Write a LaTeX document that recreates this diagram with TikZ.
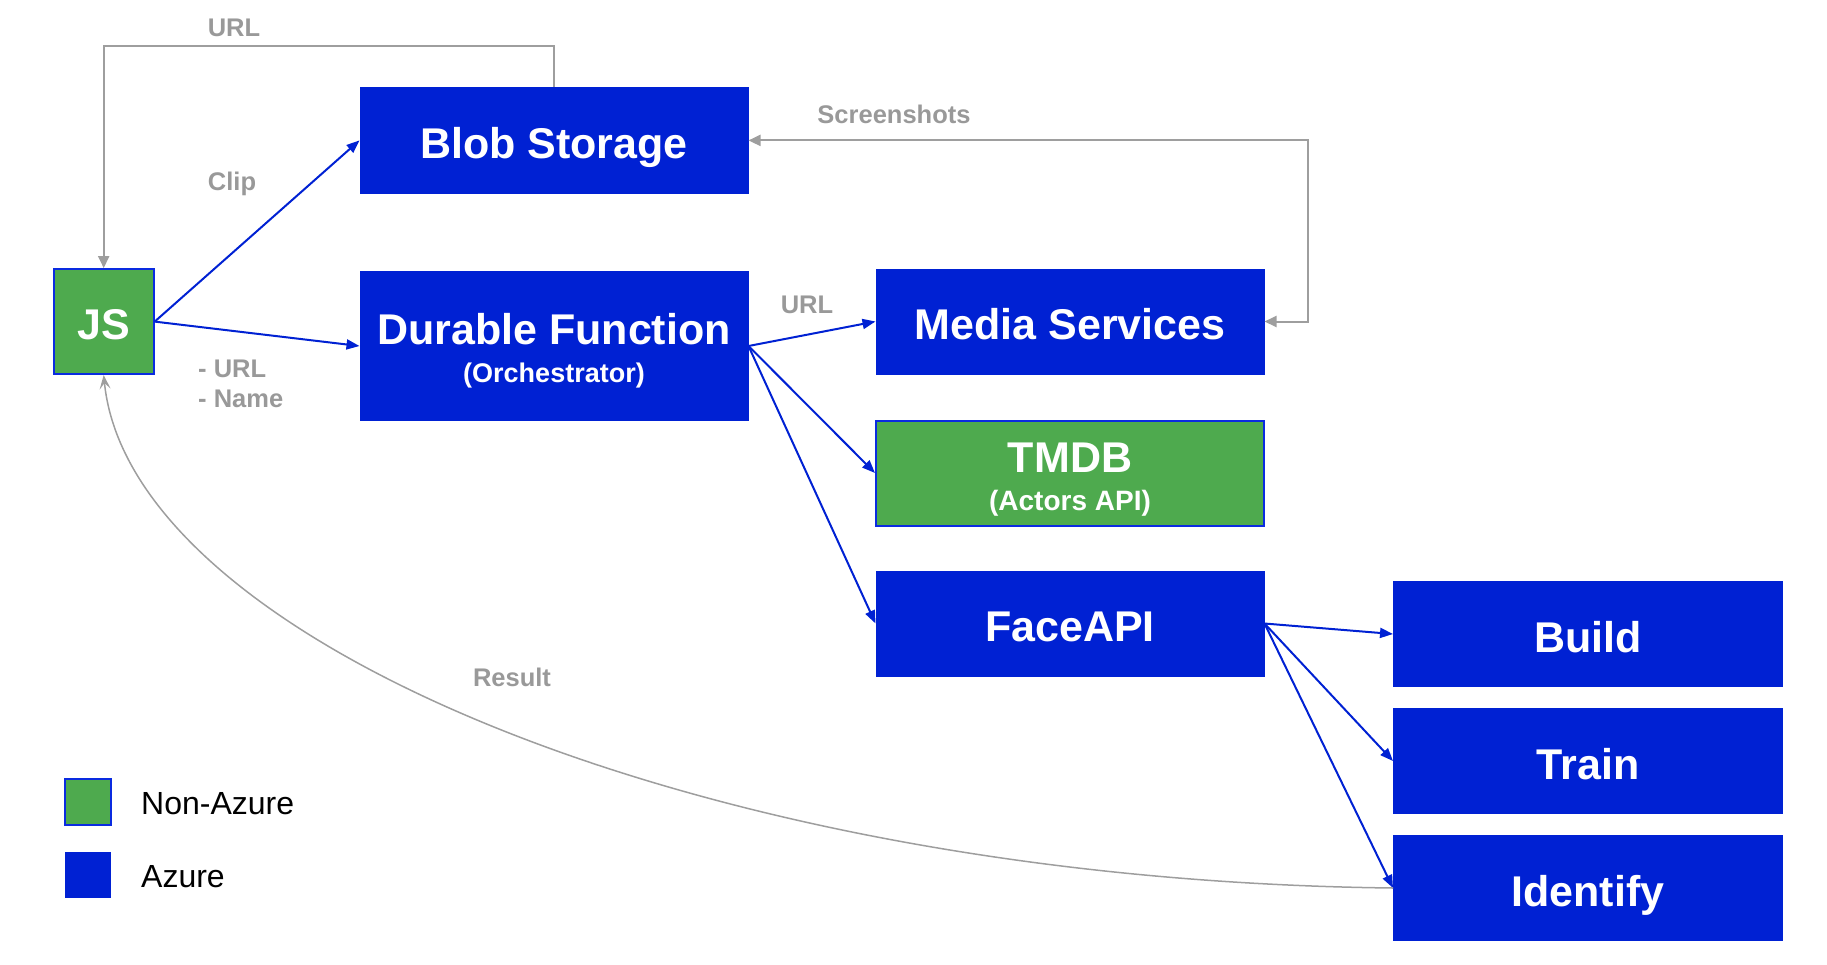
\documentclass[tikz,border=0pt]{standalone}
\usepackage{fontspec}
\setmainfont{Liberation Sans}
\usetikzlibrary{arrows.meta}
\definecolor{azure}{RGB}{0,33,211}
\definecolor{azureedge}{RGB}{10,43,224}
\definecolor{nongreen}{RGB}{78,170,78}
\definecolor{lgray}{RGB}{158,158,158}
\definecolor{tgray}{RGB}{153,153,153}
\tikzset{
  box/.style={rectangle, fill=azure, draw=azure, line width=1pt,
    minimum width=388pt, minimum height=105pt, inner sep=0pt,
    text=white, font=\bfseries\fontsize{43}{38}\selectfont, align=center,
    text height=36pt, text depth=0pt},
  gbox/.style={box, fill=nongreen, draw=azureedge, line width=2pt},
  elabel/.style={text=tgray, font=\bfseries\fontsize{25.5}{30}\selectfont, inner sep=0pt},
  blueline/.style={draw=azure, line width=2pt, -{Triangle[length=13pt,width=10pt]}},
  grayline/.style={draw=lgray, line width=2pt},
  gtip/.style={-{Triangle[length=12pt,width=11pt]}},
  legtext/.style={font=\fontsize{32}{36}\selectfont, text=black, inner sep=0pt, anchor=west},
  legbox/.style={rectangle, minimum width=46pt, minimum height=46pt, inner sep=0pt}
}
\begin{document}
\begin{tikzpicture}[x=1pt,y=-1pt]
\useasboundingbox (0,0) rectangle (1827,964);
% nodes
\node[gbox, minimum width=100pt] (js) at (103.7,321.6) {JS};
\node[box, minimum height=106pt] (blob) at (554,140.4) {Blob Storage};
\node[box, minimum height=149pt, text height=73pt, text depth=0pt] (durable) at (554,346)
  {Durable Function\\{\fontsize{27}{38}\selectfont (Orchestrator)}};
\node[box] (media) at (1070,321.5) {Media Services};
\node[gbox, text height=74pt, text depth=0pt] (tmdb) at (1070,473)
  {TMDB\\{\fontsize{28}{38}\selectfont (Actors API)}};
\node[box] (face) at (1070,623.5) {FaceAPI};
\node[box, minimum width=389pt] (build) at (1588,634) {Build};
\node[box, minimum width=389pt] (train) at (1588,761) {Train};
\node[box, minimum width=389pt] (identify) at (1588,888) {Identify};
% legend
\node[legbox, fill=nongreen, draw=azureedge, line width=2pt] (leggreen) at (88,802) {};
\node[legbox, fill=azure] (legblue) at (88,875) {};
\node[legtext] (legnon) at (141,804) {Non-Azure};
\node[legtext] (legaz) at (141,877) {Azure};
% coordinates for bends
\coordinate (urltop) at (0,45.7);
\coordinate (shotx) at (1308,0);
% connectors
\draw[grayline, gtip] (blob.north) |- (js.north |- urltop) -- (js.north);
\draw[blueline] (js.east) -- (blob.west);
\draw[blueline] (js.east) -- (durable.west);
\draw[blueline] (durable.east) -- (media.west);
\draw[blueline] (durable.east) -- (tmdb.west);
\draw[blueline] (durable.east) -- (face.west);
\draw[blueline] (face.east) -- (build.west);
\draw[blueline] (face.east) -- (train.west);
\draw[blueline] (face.east) -- (identify.west);
\draw[grayline, {Triangle[length=12pt,width=11pt]}-{Triangle[length=12pt,width=11pt]}]
  (blob.east) -| (shotx |- media.east) -- (media.east);
\draw[draw=lgray, line width=1.5pt, -{Stealth[length=14pt,width=11pt,inset=6pt]}]
  (identify.west) .. controls (700,880) and (130,640) .. (js.south);
% edge labels
\node[elabel, anchor=base] (lurl) at (234,36.7) {URL};
\node[elabel, anchor=base] (lclip) at (232,190) {Clip};
\node[elabel, anchor=base west, align=left] (lparams) at (198,407) {- URL\\- Name};
\node[elabel, anchor=base] (lshots) at (894,123) {Screenshots};
\node[elabel, anchor=base] (lurl2) at (807,313) {URL};
\node[elabel, anchor=base] (lres) at (512,686) {Result};
\end{tikzpicture}
\end{document}
